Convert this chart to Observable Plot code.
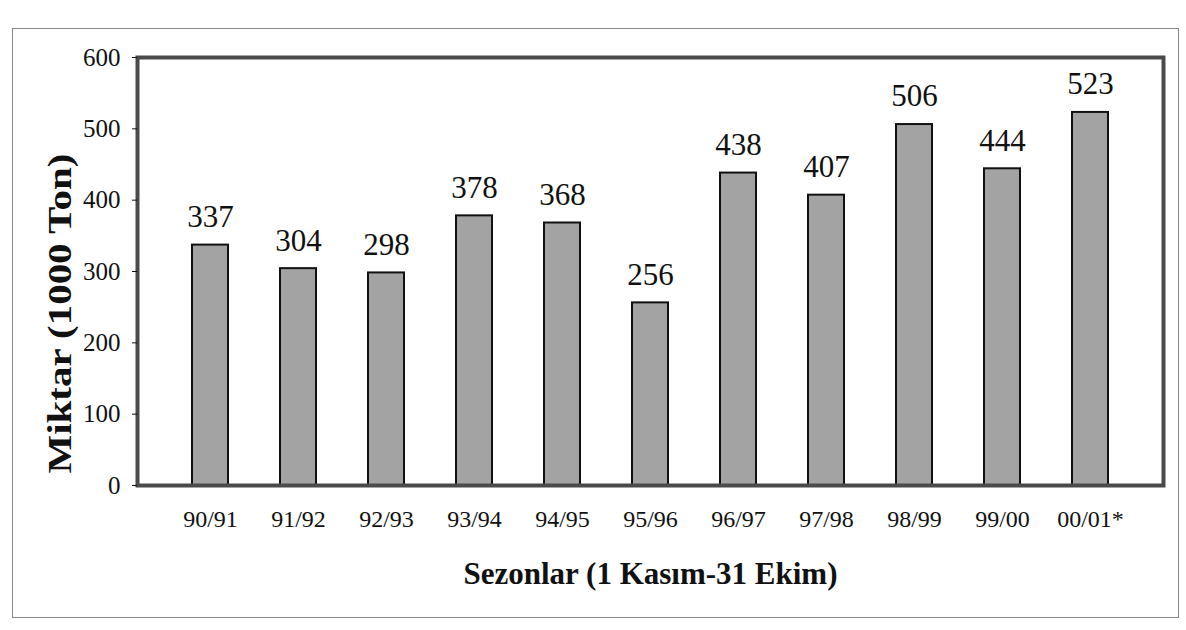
<!DOCTYPE html>
<html>
<head>
<meta charset="utf-8">
<script src="https://cdn.jsdelivr.net/npm/d3@7"></script>
<script src="https://cdn.jsdelivr.net/npm/@observablehq/plot@0.6"></script>
<style>
  html, body { margin: 0; padding: 0; background: #fff; }
  #wrap { position: relative; width: 1186px; height: 630px; }
  #page { position: absolute; left: 12px; top: 28px; width: 1167px; height: 590px; border: 1px solid #888; box-sizing: border-box; pointer-events: none; }
</style>
</head>
<body>
<div id="wrap"><div id="page"></div></div>
<script>
const seasons = ["90/91","91/92","92/93","93/94","94/95","95/96","96/97","97/98","98/99","99/00","00/01*"];
const amounts = [337, 304, 298, 378, 368, 256, 438, 407, 506, 444, 523];
const yTicks = [0, 100, 200, 300, 400, 500, 600];
const yTitle = "Miktar (1000 Ton)";
const xTitle = "Sezonlar (1 Kasım-31 Ekim)";

const data = seasons.map((s, i) => ({season: s, value: amounts[i]}));

const chart = Plot.plot({
  width: 1186,
  height: 630,
  marginLeft: 137,
  marginRight: 23,
  marginTop: 57,
  marginBottom: 145,
  style: {fontFamily: "'Liberation Serif', 'DejaVu Serif', serif", fontSize: "24px", color: "#111", background: "transparent"},
  x: {domain: seasons, padding: 0.59, label: null},
  y: {domain: [0, 600], label: null},
  marks: [
    Plot.barY(data, {x: "season", y: "value", fill: "#a3a3a3", stroke: "#111", strokeWidth: 2}),
    Plot.frame({stroke: "#4a4a4a", strokeWidth: 4}),
    Plot.axisY({ticks: yTicks, tickSize: 5, tickPadding: 12, fontSize: 25, label: null}),
    Plot.axisX({tickSize: 0, tickPadding: 24, fontSize: 24, label: null}),
    Plot.text(data, {x: "season", y: "value", text: d => String(d.value), dy: -28, fontSize: 31, fill: "#111"}),
    Plot.text([yTitle], {frameAnchor: "left", textAnchor: "middle", lineAnchor: "middle", dx: -77, dy: 42, rotate: -90, fontSize: 34, fontWeight: "bold", fill: "#111"}),
    Plot.text([xTitle], {frameAnchor: "bottom", lineAnchor: "middle", dy: 89, fontSize: 31, fontWeight: "bold", fill: "#111"})
  ]
});
document.getElementById("wrap").appendChild(chart);
chart.style.position = "absolute";
chart.style.left = "0";
chart.style.top = "0";
d3.select(chart).selectAll("text").filter(function() { return this.textContent === yTitle; })
  .attr("textLength", 320).attr("lengthAdjust", "spacingAndGlyphs");
</script>
</body>
</html>
